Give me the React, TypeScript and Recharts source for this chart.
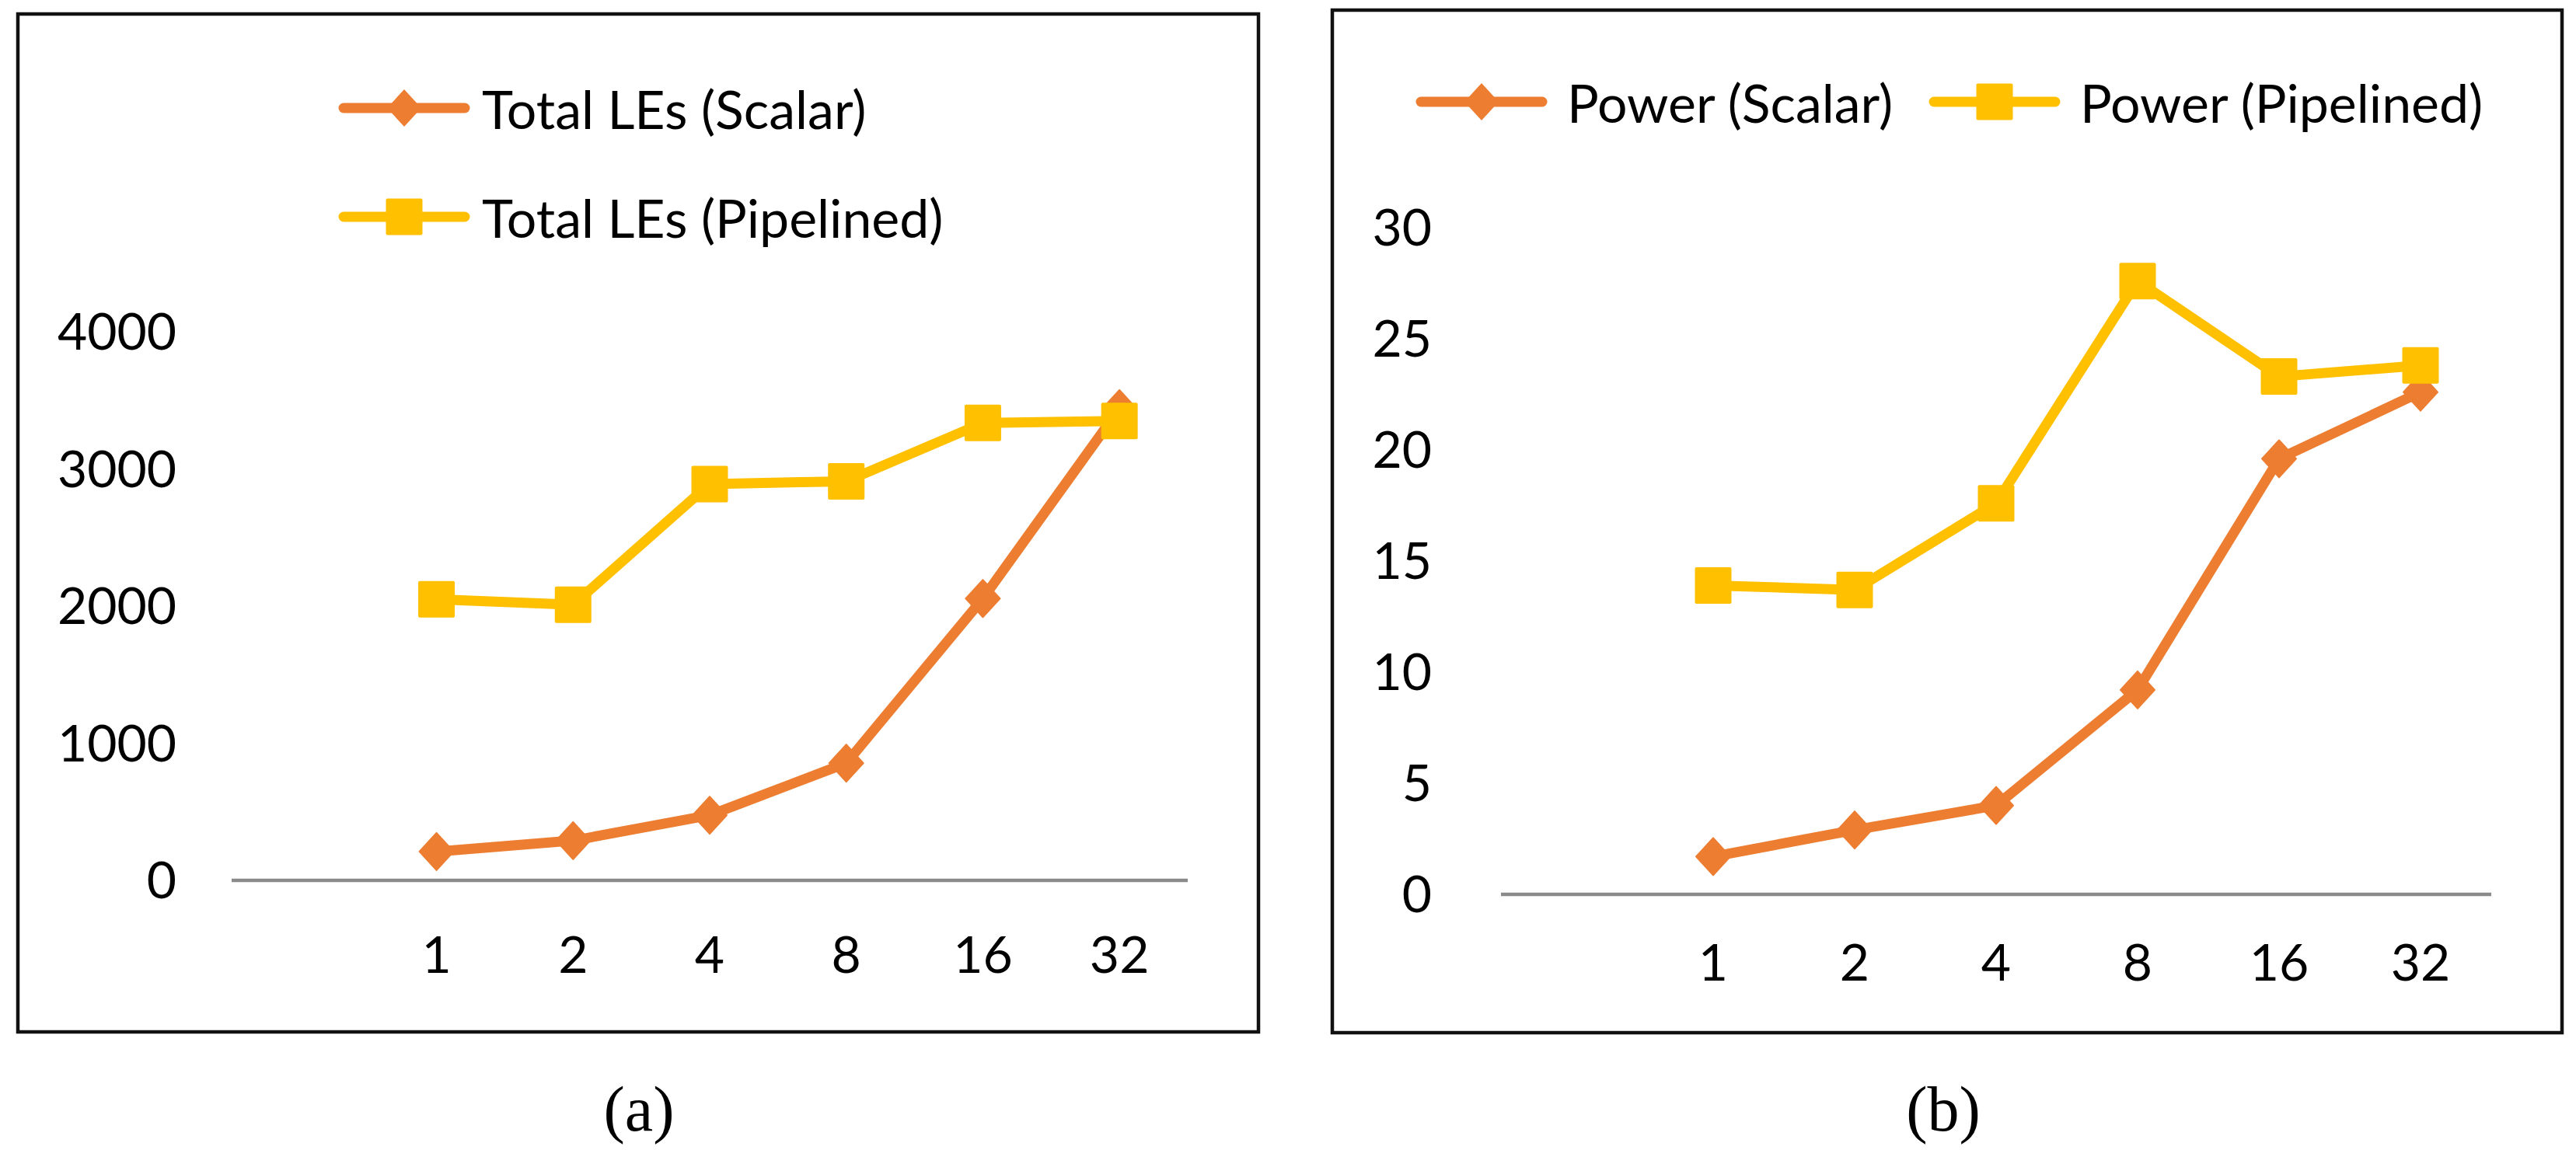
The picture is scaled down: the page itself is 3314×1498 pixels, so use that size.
import { Legend, Line, LineChart, XAxis, YAxis } from "recharts";

// x categories (the first slot is empty in the original chart)
const threads = ["", "1", "2", "4", "8", "16", "32"];

// (a) total logic elements
const lesScalar = [null, 210, 290, 475, 855, 2055, 3440];
const lesPipelined = [null, 2050, 2010, 2890, 2910, 3335, 3350];
const lesTicks = [0, 1000, 2000, 3000, 4000];

// (b) power
const powerScalar = [null, 1.7, 2.9, 4.0, 9.2, 19.6, 22.6];
const powerPipelined = [null, 13.9, 13.7, 17.6, 27.6, 23.3, 23.8];
const powerTicks = [0, 5, 10, 15, 20, 25, 30];

const seriesOrder = ["scalar", "pipelined"];

const ORANGE = "#ED7D31";
const YELLOW = "#FFC000";
const AXIS_GRAY = "#8A8A8A";
const FONT = "Lato, 'Open Sans', sans-serif";

const lesData = threads.map((t, i) => ({ t, scalar: lesScalar[i], pipelined: lesPipelined[i] }));
const powerData = threads.map((t, i) => ({ t, scalar: powerScalar[i], pipelined: powerPipelined[i] }));

type DotProps = { cx?: number | null; cy?: number | null; index?: number };

function diamondDot(color: string) {
  return function DiamondDot({ cx, cy, index }: DotProps) {
    if (cx == null || cy == null) return <g key={index} />;
    return (
      <polygon
        key={index}
        points={`${cx},${cy - 24} ${cx + 22},${cy} ${cx},${cy + 24} ${cx - 22},${cy}`}
        fill={color}
        stroke={color}
        strokeWidth={2}
        strokeLinejoin="round"
      />
    );
  };
}

function squareDot(color: string) {
  return function SquareDot({ cx, cy, index }: DotProps) {
    if (cx == null || cy == null) return <g key={index} />;
    return <rect key={index} x={cx - 23.5} y={cy - 23.5} width={47} height={47} rx={2} fill={color} />;
  };
}

type LegendItem = { value?: string; color?: string; dataKey?: unknown };

function legendContent(vertical: boolean) {
  return function LegendBox({ payload }: { payload?: LegendItem[] }) {
    // keep the series order (scalar first) instead of the alphabetical one
    const items = [...(payload ?? [])].sort(
      (a, b) => seriesOrder.indexOf(String(a.dataKey)) - seriesOrder.indexOf(String(b.dataKey)),
    );
    return (
      <div style={{ display: "flex", flexDirection: vertical ? "column" : "row" }}>
        {items.map((p, i) => {
          const color = p.color ?? "#000";
          return (
            <div
              key={i}
              style={{
                display: "flex",
                alignItems: "center",
                height: vertical ? 140 : 80,
                width: !vertical && i === 0 ? 660 : undefined,
              }}
            >
              <svg width={180} height={60} style={{ flex: "none" }}>
                <line x1={12} y1={30} x2={168} y2={30} stroke={color} strokeWidth={13} strokeLinecap="round" />
                {p.dataKey === "scalar" ? (
                  <polygon points="90,6 112,30 90,54 68,30" fill={color} />
                ) : (
                  <rect x={66.5} y={6.5} width={47} height={47} rx={2} fill={color} />
                )}
              </svg>
              <span
                style={{
                  marginLeft: vertical ? 10 : 20,
                  fontFamily: FONT,
                  fontSize: 68,
                  color: "#000",
                  whiteSpace: "nowrap",
                }}
              >
                {p.value}
              </span>
            </div>
          );
        })}
      </div>
    );
  };
}

const tickStyle = { fontFamily: FONT, fontSize: 66, fill: "#000" };

export default function App() {
  return (
    <div style={{ position: "absolute", left: 0, top: 0, width: 3314, height: 1498, background: "#fff" }}>
      <svg width={3314} height={1498} style={{ position: "absolute", left: 0, top: 0 }}>
        <rect x={23} y={18} width={1596} height={1310} fill="none" stroke="#111" strokeWidth={4.5} />
        <rect x={1714} y={13} width={1582} height={1316} fill="none" stroke="#111" strokeWidth={4.5} />
        <text x={822} y={1455} textAnchor="middle" fontFamily="'Liberation Serif', serif" fontSize={82} fill="#000">
          (a)
        </text>
        <text x={2500} y={1455} textAnchor="middle" fontFamily="'Liberation Serif', serif" fontSize={82} fill="#000">
          (b)
        </text>
      </svg>

      <div style={{ position: "absolute", left: 0, top: 0 }}>
        <LineChart width={1640} height={1340} data={lesData} margin={{ top: 427, right: 112, bottom: 57, left: 98 }}>
          <XAxis
            dataKey="t"
            scale="band"
            interval={0}
            height={150}
            tickLine={false}
            tickSize={0}
            tickMargin={72}
            axisLine={{ stroke: AXIS_GRAY, strokeWidth: 4.5 }}
            tick={tickStyle}
          />
          <YAxis
            domain={[0, 4000]}
            ticks={lesTicks}
            width={200}
            axisLine={false}
            tickLine={false}
            tickSize={0}
            tickMargin={71}
            tick={tickStyle}
          />
          <Legend
            layout="vertical"
            align="center"
            verticalAlign="middle"
            wrapperStyle={{ left: 430, top: 69, width: "auto" }}
            content={legendContent(true)}
          />
          <Line
            type="linear"
            dataKey="scalar"
            name="Total LEs (Scalar)"
            stroke={ORANGE}
            strokeWidth={13}
            strokeLinejoin="round"
            strokeLinecap="round"
            dot={diamondDot(ORANGE)}
            activeDot={false}
            isAnimationActive={false}
          />
          <Line
            type="linear"
            dataKey="pipelined"
            name="Total LEs (Pipelined)"
            stroke={YELLOW}
            strokeWidth={13}
            strokeLinejoin="round"
            strokeLinecap="round"
            dot={squareDot(YELLOW)}
            activeDot={false}
            isAnimationActive={false}
          />
        </LineChart>
      </div>

      <div style={{ position: "absolute", left: 1660, top: 0 }}>
        <LineChart width={1654} height={1340} data={powerData} margin={{ top: 293, right: 109, bottom: 39, left: 71 }}>
          <XAxis
            dataKey="t"
            scale="band"
            interval={0}
            height={150}
            tickLine={false}
            tickSize={0}
            tickMargin={64}
            axisLine={{ stroke: AXIS_GRAY, strokeWidth: 4.5 }}
            tick={tickStyle}
          />
          <YAxis
            domain={[0, 30]}
            ticks={powerTicks}
            width={200}
            axisLine={false}
            tickLine={false}
            tickSize={0}
            tickMargin={89}
            tick={tickStyle}
          />
          <Legend
            layout="vertical"
            align="center"
            verticalAlign="middle"
            wrapperStyle={{ left: 156, top: 91, width: "auto" }}
            content={legendContent(false)}
          />
          <Line
            type="linear"
            dataKey="scalar"
            name="Power (Scalar)"
            stroke={ORANGE}
            strokeWidth={13}
            strokeLinejoin="round"
            strokeLinecap="round"
            dot={diamondDot(ORANGE)}
            activeDot={false}
            isAnimationActive={false}
          />
          <Line
            type="linear"
            dataKey="pipelined"
            name="Power (Pipelined)"
            stroke={YELLOW}
            strokeWidth={13}
            strokeLinejoin="round"
            strokeLinecap="round"
            dot={squareDot(YELLOW)}
            activeDot={false}
            isAnimationActive={false}
          />
        </LineChart>
      </div>
    </div>
  );
}
